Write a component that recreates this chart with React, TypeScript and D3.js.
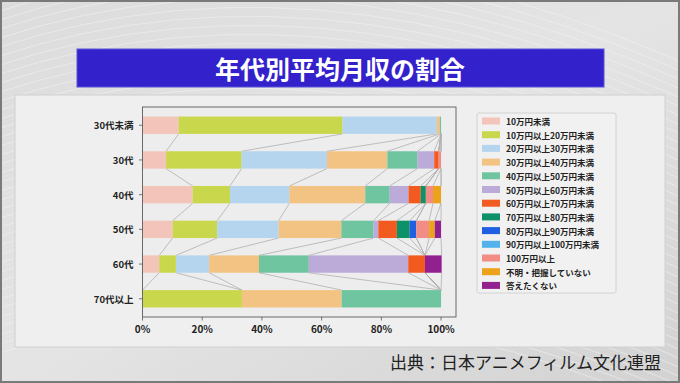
import React from 'react';
import * as d3 from 'd3';

const categories = ['30代未満', '30代', '40代', '50代', '60代', '70代以上'];
const seriesNames = [
  '10万円未満',
  '10万円以上20万円未満',
  '20万円以上30万円未満',
  '30万円以上40万円未満',
  '40万円以上50万円未満',
  '50万円以上60万円未満',
  '60万円以上70万円未満',
  '70万円以上80万円未満',
  '80万円以上90万円未満',
  '90万円以上100万円未満',
  '100万円以上',
  '不明・把握していない',
  '答えたくない',
];
const seriesColors = [
  '#f3c4ba', '#c9d74c', '#b5d5ef', '#f3c384', '#70c5a1', '#bcaad9', '#f35a1f',
  '#0d9169', '#1f60e2', '#54b2ea', '#f28d86', '#eca31b', '#93208f',
];
const under30 = [12.1, 54.9, 31.6, 1.0, 0.4, 0, 0, 0, 0, 0, 0, 0, 0];
const age30s = [7.9, 25.3, 28.6, 20.2, 10.1, 5.6, 1.5, 0, 0, 0, 0.8, 0, 0];
const age40s = [16.8, 12.5, 19.9, 25.4, 8.2, 6.3, 4.1, 1.7, 0, 0, 2.4, 2.7, 0];
const age50s = [10.1, 14.9, 20.6, 21.0, 10.8, 1.6, 6.2, 4.3, 2.2, 0, 4.3, 1.9, 2.1];
const age60s = [5.6, 5.6, 11.1, 16.7, 16.7, 33.3, 5.6, 0, 0, 0, 0, 0, 5.6];
const age70plus = [0, 33.3, 0, 33.4, 33.3, 0, 0, 0, 0, 0, 0, 0, 0];
const rows = [under30, age30s, age40s, age50s, age60s, age70plus];
const xTicks = [0, 20, 40, 60, 80, 100];

const W = 680;
const H = 383;
const FONT = '"Noto Sans CJK JP", "Noto Sans", sans-serif';

export default function App() {
  const plot = { left: 142.5, right: 456, top: 107, bottom: 317 };
  const x = d3.scaleLinear().domain([0, 105]).range([plot.left, plot.right]);
  const y = d3.scaleLinear().domain([-0.525, 5.525]).range([plot.top, plot.bottom]);
  const barH = y(0.25) - y(-0.25);

  const cums = rows.map((r) => {
    let s = 0;
    return r.map((v) => {
      const start = s;
      s += v;
      return [start, s];
    });
  });

  const arcs = d3.range(0, 40).map((i) => i);
  const legendY0 = 121;
  const legendStep = 13.7;

  return (
    <div style={{ position: 'fixed', left: 0, top: 0, width: W, height: H }}>
      <svg width={W} height={H} viewBox={`0 0 ${W} ${H}`} style={{ display: 'block' }}>
        <defs>
          <linearGradient id="bg" x1="0" y1="0" x2="1" y2="1">
            <stop offset="0" stopColor="#dcdcdc" />
            <stop offset="0.5" stopColor="#e4e4e4" />
            <stop offset="1" stopColor="#d2d2d2" />
          </linearGradient>
        </defs>
        <rect x={0} y={0} width={W} height={H} fill="url(#bg)" />
        <g fill="none" stroke="#f4f4f4" strokeWidth={1} opacity={0.55}>
          {arcs.map((i) => (
            <path key={'a' + i} d={`M ${-50} ${20 + i * 9} Q ${300} ${-120 + i * 9} ${720} ${80 + i * 9}`} />
          ))}
        </g>
        <rect x={1} y={1} width={W - 2} height={H - 2} fill="none" stroke="#7a7a7a" strokeWidth={2} />

        {/* title */}
        <rect x={77} y={49} width={527} height={38} fill="#3321cc" stroke="#5a52d8" strokeWidth={1} />
        <text x={340} y={68} fill="#ffffff" fontFamily={FONT} fontWeight={700} fontSize={25}
          textAnchor="middle" dominantBaseline="central">年代別平均月収の割合</text>

        {/* panel */}
        <rect x={15} y={95} width={650} height={252} fill="#efefef" stroke="#d0d0d0" strokeWidth={1} />

        {/* axes face */}
        <rect x={plot.left} y={plot.top} width={plot.right - plot.left} height={plot.bottom - plot.top}
          fill="#ededed" />

        {/* connection lines */}
        <g stroke="#b0b0b0" strokeWidth={0.8} fill="none">
          {cums.slice(0, -1).map((c, i) =>
            c.map((seg, k) => (
              <line key={`l${i}-${k}`} x1={x(seg[1])} y1={y(i) + barH / 2}
                x2={x(cums[i + 1][k][1])} y2={y(i + 1) - barH / 2} />
            ))
          )}
        </g>

        {/* bars */}
        {cums.map((c, i) => (
          <g key={'b' + i}>
            {c.map((seg, k) =>
              seg[1] - seg[0] > 0 ? (
                <rect key={k} x={x(seg[0])} y={y(i) - barH / 2} width={x(seg[1]) - x(seg[0])}
                  height={barH} fill={seriesColors[k]} />
              ) : null
            )}
          </g>
        ))}

        {/* frame */}
        <rect x={plot.left} y={plot.top} width={plot.right - plot.left} height={plot.bottom - plot.top}
          fill="none" stroke="#6a6a6a" strokeWidth={1} />

        {/* y axis */}
        {categories.map((c, i) => (
          <g key={'y' + i}>
            <line x1={plot.left - 3.5} x2={plot.left} y1={y(i)} y2={y(i)} stroke="#555" strokeWidth={0.8} />
            <text x={plot.left - 9} y={y(i)} fontFamily={FONT} fontSize={9.5} fontWeight={700} fill="#222"
              textAnchor="end" dominantBaseline="central">{c}</text>
          </g>
        ))}

        {/* x axis */}
        {xTicks.map((t) => (
          <g key={'x' + t}>
            <line x1={x(t)} x2={x(t)} y1={plot.bottom} y2={plot.bottom + 3.5} stroke="#555" strokeWidth={0.8} />
            <text x={x(t)} y={plot.bottom + 11} fontFamily={FONT} fontSize={10} fontWeight={700} fill="#222"
              textAnchor="middle" dominantBaseline="central">{t + '%'}</text>
          </g>
        ))}

        {/* legend */}
        <rect x={477} y={113} width={139} height={180} rx={2} fill="#f1f1f1" stroke="#cccccc" strokeWidth={0.8} />
        {seriesNames.map((n, k) => (
          <g key={'lg' + k}>
            <rect x={482} y={legendY0 + k * legendStep - 3.5} width={18} height={7} fill={seriesColors[k]} />
            <text x={506} y={legendY0 + k * legendStep} fontFamily={FONT} fontSize={8.5} fontWeight={700}
              fill="#222" dominantBaseline="central">{n}</text>
          </g>
        ))}

        {/* source */}
        <text x={661} y={361} fontFamily={FONT} fontSize={17} fill="#222" textAnchor="end"
          dominantBaseline="central">出典：日本アニメフィルム文化連盟</text>
      </svg>
    </div>
  );
}
